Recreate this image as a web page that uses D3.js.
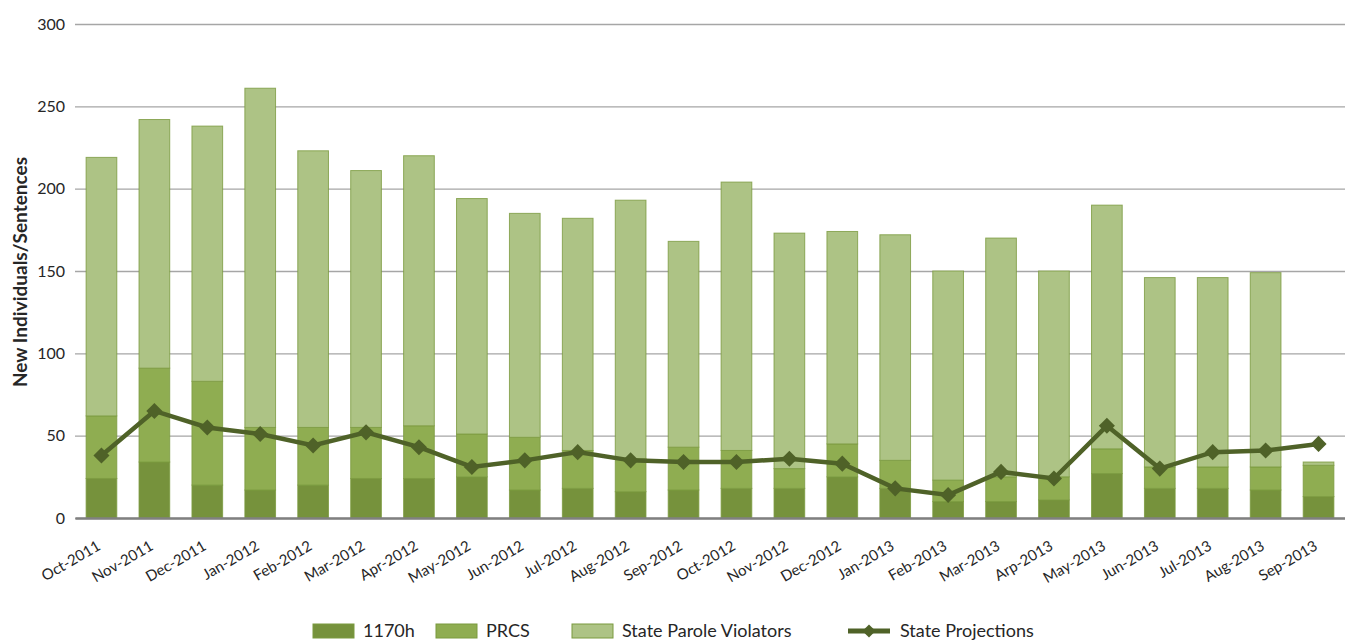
<!DOCTYPE html>
<html>
<head>
<meta charset="utf-8">
<script src="https://cdn.jsdelivr.net/npm/d3@7"></script>
<style>
  body { margin: 0; background: #fff; }
  svg, svg text { font-family: Lato, 'Open Sans', sans-serif; }
  .axis text { fill: #262626; }
</style>
</head>
<body>
<div id="chart"></div>
<script>
'use strict';

var months = [ 'Oct-2011', 'Nov-2011', 'Dec-2011', 'Jan-2012', 'Feb-2012', 'Mar-2012',
  'Apr-2012', 'May-2012', 'Jun-2012', 'Jul-2012', 'Aug-2012', 'Sep-2012',
  'Oct-2012', 'Nov-2012', 'Dec-2012', 'Jan-2013', 'Feb-2013', 'Mar-2013',
  'Arp-2013', 'May-2013', 'Jun-2013', 'Jul-2013', 'Aug-2013', 'Sep-2013' ];

var h1170 = [ 24, 34, 20, 17, 20, 24, 24, 25, 17, 18, 16, 17, 18, 18, 25, 18, 10, 10, 11, 27, 18, 18, 17, 13 ];
var prcs = [ 38, 57, 63, 38, 35, 31, 32, 26, 32, 23, 20, 26, 23, 12, 20, 17, 13, 15, 14, 15, 13, 13, 14, 19 ];
var paroleViolators = [ 157, 151, 155, 206, 168, 156, 164, 143, 136, 141, 157, 125, 163, 143, 129, 137, 127, 145, 125, 148, 115, 115, 118, 2 ];
var stateProjections = [ 38, 65, 55, 51, 44, 52, 43, 31, 35, 40, 35, 34, 34, 36, 33, 18, 14, 28, 24, 56, 30, 40, 41, 45 ];

var yTicks = [ 0, 50, 100, 150, 200, 250, 300 ];

var seriesKeys = [ '1170h', 'PRCS', 'State Parole Violators' ];
var colors = {
  '1170h': '#76923c',
  'PRCS': '#8fad51',
  'State Parole Violators': '#adc385',
  'State Projections': '#4f6228'
};

var margin = { top: 24, right: 0, bottom: 122, left: 75 },
    baseWidth = 1345,
    baseHeight = 640,
    width = baseWidth - margin.left - margin.right,
    height = baseHeight - margin.top - margin.bottom;

// rows for the stack
var rows = months.map( function( m, i ) {
  return {
    month: m,
    '1170h': h1170[i],
    'PRCS': prcs[i],
    'State Parole Violators': paroleViolators[i]
  };
} );

var stacked = d3.stack().keys( seriesKeys )( rows );

var x = d3.scaleBand()
    .domain( months )
    .range( [ 0, width ] )
    .paddingInner( 0.42 )
    .paddingOuter( 0.21 );

var y = d3.scaleLinear()
    .domain( [ 0, 300 ] )
    .range( [ height, 0 ] );

var svg = d3.select( '#chart' )
  .append( 'svg' )
    .attr( 'width', baseWidth )
    .attr( 'height', baseHeight )
  .append( 'g' )
    .attr( 'transform', 'translate(' + margin.left + ',' + margin.top + ')' );

// gridlines + y labels
var yAxis = svg.append( 'g' )
  .classed( 'axis axis__y', true )
  .call( d3.axisLeft( y )
    .tickValues( yTicks )
    .tickSize( -width )
    .tickPadding( 10 ) );
yAxis.attr( 'font-family', null );
yAxis.select( '.domain' ).remove();
yAxis.selectAll( 'line' )
  .attr( 'stroke', '#a6a6a6' )
  .attr( 'stroke-width', 1.3 );
yAxis.selectAll( 'text' )
  .style( 'font-size', '16px' );

// stacked bars
svg.append( 'g' )
  .selectAll( 'g' )
  .data( stacked )
  .join( 'g' )
    .attr( 'fill', function( d ) { return colors[d.key]; } )
  .selectAll( 'rect' )
  .data( function( d ) { return d; } )
  .join( 'rect' )
    .attr( 'x', function( d ) { return x( d.data.month ); } )
    .attr( 'y', function( d ) { return y( d[1] ); } )
    .attr( 'width', x.bandwidth() )
    .attr( 'height', function( d ) { return y( d[0] ) - y( d[1] ); } )
    .attr( 'stroke', '#7a9a3e' )
    .attr( 'stroke-width', 1 )
    .attr( 'stroke-opacity', 0.8 );

// x axis
var xAxis = svg.append( 'g' )
  .classed( 'axis axis__x', true )
  .attr( 'transform', 'translate(0,' + height + ')' )
  .call( d3.axisBottom( x ).tickSize( 0 ).tickPadding( 0 ) );
xAxis.attr( 'font-family', null );
xAxis.select( '.domain' )
  .attr( 'stroke', '#808080' )
  .attr( 'stroke-width', 2.5 );
xAxis.selectAll( 'text' )
  .style( 'font-size', '15px' )
  .attr( 'text-anchor', 'end' )
  .attr( 'dy', '0' )
  .attr( 'transform', 'translate(0,31) rotate(-30)' );

// projection line
var line = d3.line()
  .x( function( d, i ) { return x( months[i] ) + x.bandwidth() / 2; } )
  .y( function( d ) { return y( d ); } );

svg.append( 'path' )
  .attr( 'd', line( stateProjections ) )
  .attr( 'fill', 'none' )
  .attr( 'stroke', colors['State Projections'] )
  .attr( 'stroke-width', 4.5 );

var diamond = d3.symbol().type( d3.symbolDiamond2 ).size( 165 );

svg.append( 'g' )
  .selectAll( 'path' )
  .data( stateProjections )
  .join( 'path' )
    .attr( 'd', diamond )
    .attr( 'transform', function( d, i ) {
      return 'translate(' + ( x( months[i] ) + x.bandwidth() / 2 ) + ',' + y( d ) + ')';
    } )
    .attr( 'fill', colors['State Projections'] );

// y axis title
svg.append( 'text' )
  .attr( 'transform', 'rotate(-90)' )
  .attr( 'x', -248 )
  .attr( 'y', -48 )
  .attr( 'text-anchor', 'middle' )
  .style( 'font-size', '19px' )
  .style( 'font-weight', 'bold' )
  .attr( 'fill', '#262626' )
  .text( 'New Individuals/Sentences' );

// legend
var legend = d3.select( 'svg' ).append( 'g' )
  .attr( 'transform', 'translate(0,629)' );

var legendItems = [
  { key: '1170h', x: 313, type: 'rect' },
  { key: 'PRCS', x: 436, type: 'rect' },
  { key: 'State Parole Violators', x: 572, type: 'rect' },
  { key: 'State Projections', x: 848, type: 'line' }
];

legendItems.forEach( function( item ) {
  if ( item.type === 'rect' ) {
    legend.append( 'rect' )
      .attr( 'x', item.x )
      .attr( 'y', -5 )
      .attr( 'width', 41 )
      .attr( 'height', 14 )
      .attr( 'fill', colors[item.key] )
      .attr( 'stroke', '#7a9a3e' )
      .attr( 'stroke-width', 1 );
  } else {
    legend.append( 'line' )
      .attr( 'x1', item.x )
      .attr( 'x2', item.x + 42 )
      .attr( 'y1', 2 )
      .attr( 'y2', 2 )
      .attr( 'stroke', colors[item.key] )
      .attr( 'stroke-width', 5 );
    legend.append( 'path' )
      .attr( 'd', d3.symbol().type( d3.symbolDiamond2 ).size( 110 ) )
      .attr( 'transform', 'translate(' + ( item.x + 21 ) + ',2)' )
      .attr( 'fill', colors[item.key] );
  }
  legend.append( 'text' )
    .attr( 'x', item.x + ( item.type === 'rect' ? 50 : 52 ) )
    .attr( 'y', 8 )
    .style( 'font-size', '18px' )
    .attr( 'fill', '#262626' )
    .text( item.key );
} );
</script>
</body>
</html>
